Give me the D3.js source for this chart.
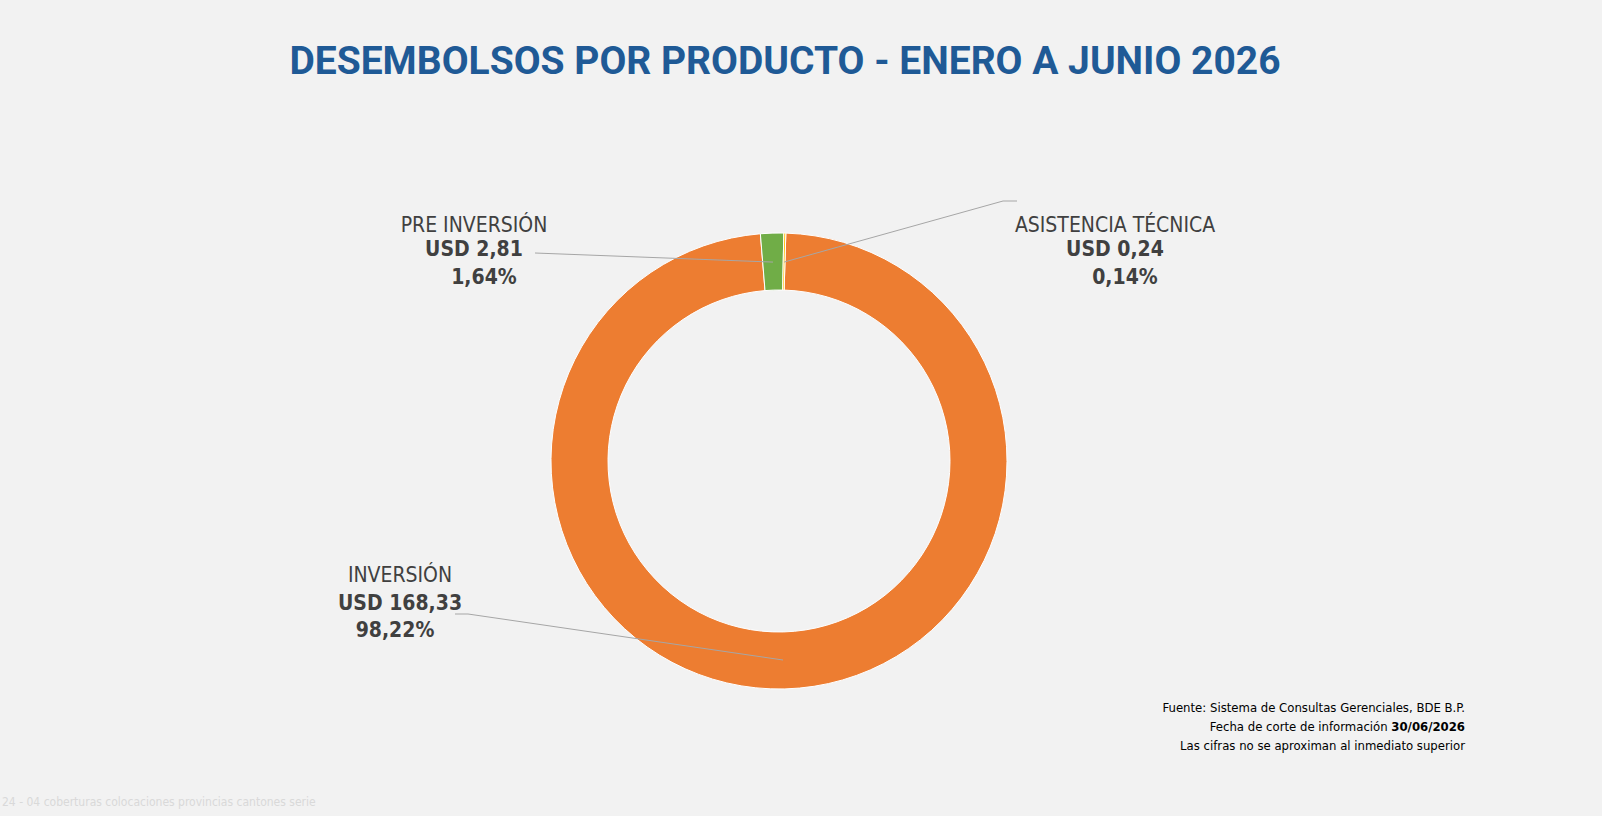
<!DOCTYPE html>
<html><head><meta charset="utf-8">
<script src="https://cdn.jsdelivr.net/npm/d3@7"></script>
<style>
body{margin:0;background:#f2f2f2;}
.lbl{font-family:"Liberation Sans Narrow","DejaVu Sans Condensed",Roboto,sans-serif;fill:#404040;}
</style></head>
<body><svg id="c" width="1602" height="816"></svg>
<script>
const products = ["INVERSIÓN", "PRE INVERSIÓN", "ASISTENCIA TÉCNICA"]
const amounts = [168.33, 2.81, 0.24]
const amountLabels = ["USD 168,33", "USD 2,81", "USD 0,24"]
const percentLabels = ["98,22%", "1,64%", "0,14%"]
const colors = ["#ED7D31", "#70AD47", "#FFC000"]

const svg = d3.select("#c")
const cx = 779, cy = 461, outerR = 228, innerR = 171

svg.append("text").attr("x", 785).attr("y", 74).attr("text-anchor", "middle")
    .attr("font-family", "Roboto, sans-serif").attr("font-weight", "bold")
    .attr("font-size", 39).attr("fill", "#1F5A96")
    .text("DESEMBOLSOS POR PRODUCTO - ENERO A JUNIO 2026")

const data = products.map((p, i) => ({ p, v: amounts[i], i }))
const pie = d3.pie().value(d => d.v).sort(null)
    .startAngle(0.03).endAngle(0.03 + 2 * Math.PI)
const arc = d3.arc().innerRadius(innerR).outerRadius(outerR)
const g = svg.append("g").attr("transform", `translate(${cx},${cy})`)
const slices = pie(data)
g.selectAll("path").data(slices).join("path")
    .attr("d", arc).attr("fill", d => colors[d.data.i])
    .attr("stroke", "white").attr("stroke-width", 1)

// leader lines
const mid = d3.arc().innerRadius(innerR + 28).outerRadius(innerR + 28)
const anchors = [[455, 614, 468], [535, 253, 535], [1017, 201, 1003]]
slices.forEach(s => {
    let [x, y] = mid.centroid(s)
    if (s.data.i === 0) { x = 783 - cx; y = 660 - cy }
    const a = anchors[s.data.i]
    svg.append("polyline")
        .attr("points", `${a[0]},${a[1]} ${a[2]},${a[1]} ${cx + x},${cy + y}`)
        .attr("fill", "none").attr("stroke", "#a6a6a6").attr("stroke-width", 1)
})

const labelPos = [[400, 582, 610, 637], [474, 232, 256, 284], [1115, 232, 256, 284]]
data.forEach(d => {
    const [x, y1, y2, y3] = labelPos[d.i]
    svg.append("text").attr("class", "lbl").attr("x", x).attr("y", y1)
        .attr("text-anchor", "middle").attr("font-size", 21).text(d.p)
    svg.append("text").attr("class", "lbl").attr("x", x).attr("y", y2)
        .attr("text-anchor", "middle").attr("font-size", 21).attr("font-weight", "bold").text(amountLabels[d.i])
    svg.append("text").attr("class", "lbl").attr("x", x + (d.i === 0 ? -5 : 10)).attr("y", y3)
        .attr("text-anchor", "middle").attr("font-size", 21).attr("font-weight", "bold").text(percentLabels[d.i])
})

const foot = svg.append("text").attr("class", "lbl").attr("text-anchor", "end")
    .attr("font-size", 13).style("fill", "#000")
foot.append("tspan").attr("x", 1465).attr("y", 712).text("Fuente: Sistema de Consultas Gerenciales, BDE B.P.")
foot.append("tspan").attr("x", 1465).attr("y", 731).text("Fecha de corte de información ")
foot.append("tspan").attr("font-weight", "bold").text("30/06/2026")
foot.append("tspan").attr("x", 1465).attr("y", 750).text("Las cifras no se aproximan al inmediato superior")

svg.append("text").attr("class", "lbl").attr("x", 2).attr("y", 806).attr("font-size", 12)
    .style("fill", "#d9d9d9").text("24 - 04 coberturas colocaciones provincias cantones serie")
</script></body></html>
